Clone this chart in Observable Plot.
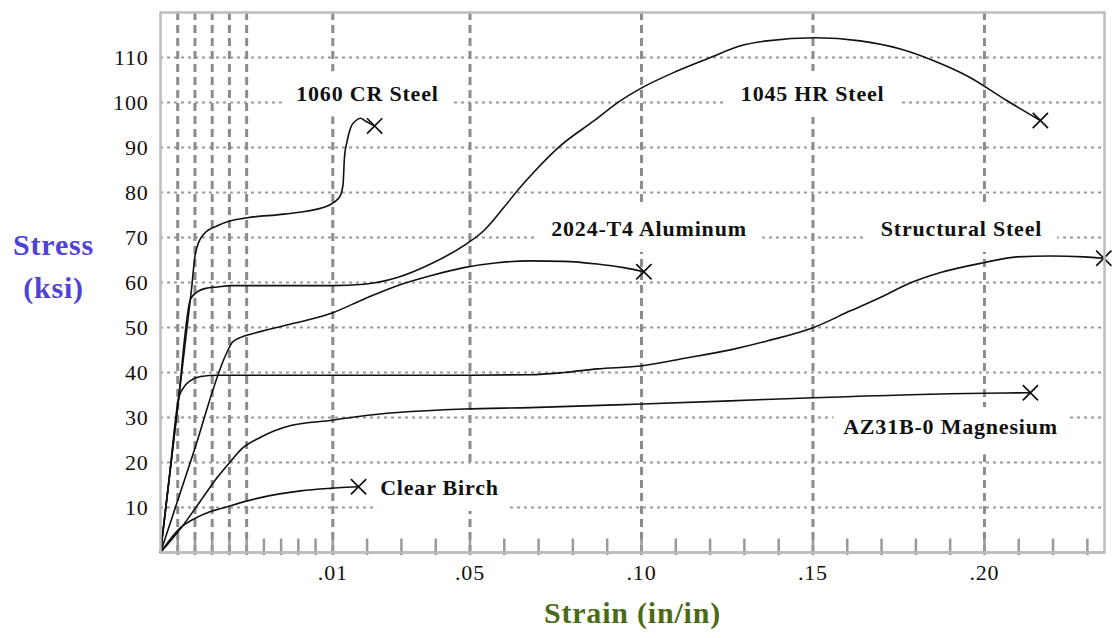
<!DOCTYPE html>
<html>
<head>
<meta charset="utf-8">
<script src="https://cdn.jsdelivr.net/npm/d3@7"></script>
<script src="https://cdn.jsdelivr.net/npm/@observablehq/plot@0.6"></script>
<style>
  html, body { margin: 0; padding: 0; background: #ffffff; }
</style>
</head>
<body>
<div id="chart"></div>
<script>
// ---- Series data (strain in/in, stress ksi) ----
const steel1060Strain = [0, 0.0010, 0.0018, 0.00203, 0.00252, 0.0033, 0.00407, 0.00504, 0.00717, 0.0095, 0.0103, 0.0122, 0.0130, 0.0134, 0.0142, 0.0152, 0.0166, 0.0181, 0.0195, 0.0222];
const steel1060Stress = [0, 32.5, 58.5, 66.5, 70.8, 72.6, 73.7, 74.4, 75.2, 76.7, 77.8, 79.3, 81.9, 87.8, 91.5, 94.4, 95.9, 96.5, 95.9, 94.8];

const steel1045Strain = [0, 0.0010, 0.00174, 0.00213, 0.00262, 0.0033, 0.00407, 0.0100, 0.0191, 0.0288, 0.0385, 0.0482, 0.0540, 0.0599, 0.0638, 0.0686, 0.0764, 0.0861, 0.0939, 0.1002, 0.1104, 0.1201, 0.1289, 0.1366, 0.1507, 0.1638, 0.1755, 0.1852, 0.1950, 0.2066, 0.2163];
const steel1045Stress = [0, 32.5, 56.3, 57.9, 58.7, 59.0, 59.3, 59.3, 59.6, 61.1, 64.1, 68.2, 71.5, 76.7, 80.4, 84.5, 90.4, 95.9, 100.4, 103.3, 107.0, 110.0, 112.6, 113.7, 114.4, 113.7, 111.9, 109.3, 105.9, 100.4, 96.0];

const aluminumStrain = [0, 0.0019, 0.0038, 0.00417, 0.00465, 0.00523, 0.00717, 0.0091, 0.0100, 0.0190, 0.0288, 0.0385, 0.0482, 0.0579, 0.0676, 0.0774, 0.0871, 0.0948, 0.1007];
const aluminumStress = [0, 22.0, 44.0, 46.7, 47.8, 48.5, 50.4, 52.2, 53.3, 56.3, 59.3, 61.5, 63.3, 64.4, 64.8, 64.7, 64.1, 63.3, 62.4];

const structuralStrain = [0, 0.0005, 0.00106, 0.00135, 0.00174, 0.00233, 0.0033, 0.0100, 0.0300, 0.0500, 0.0676, 0.0774, 0.0871, 0.1002, 0.1114, 0.1269, 0.1366, 0.1502, 0.1609, 0.1706, 0.1775, 0.1872, 0.1998, 0.2095, 0.2193, 0.2290, 0.2348];
const structuralStress = [0, 16.3, 34.4, 36.7, 38.2, 39.1, 39.4, 39.4, 39.4, 39.4, 39.5, 40.0, 40.8, 41.5, 43.0, 45.2, 47.0, 50.0, 53.7, 57.0, 59.6, 62.2, 64.4, 65.7, 65.9, 65.7, 65.4];

const magnesiumStrain = [0, 0.00136, 0.00233, 0.0033, 0.00426, 0.00465, 0.00581, 0.00756, 0.0100, 0.0191, 0.0288, 0.0482, 0.0676, 0.1002, 0.1259, 0.1502, 0.1998, 0.2134];
const magnesiumStress = [0, 6.3, 11.5, 16.7, 21.1, 22.8, 25.6, 28.2, 29.4, 30.4, 31.1, 31.9, 32.2, 33.0, 33.7, 34.4, 35.4, 35.5];

const birchStrain = [0, 0.00058, 0.00097, 0.00233, 0.00407, 0.00581, 0.00814, 0.0100, 0.0140, 0.0175];
const birchStress = [0, 3.0, 4.8, 8.2, 10.4, 12.2, 13.7, 14.3, 14.5, 14.6];

// ---- Labels ----
const seriesNames = ["1060 CR Steel", "1045 HR Steel", "2024-T4 Aluminum", "Structural Steel", "AZ31B-0 Magnesium", "Clear Birch"];
const labelStrain = [0.0201, 0.1499, 0.1022, 0.1933, 0.1901, 0.0411];
const labelStress = [101.9, 101.9, 71.9, 71.9, 27.9, 14.4];

// ---- Axes / grid ----
const yTickValues = [10, 20, 30, 40, 50, 60, 70, 80, 90, 100, 110];
const xGridValues = [0.001, 0.002, 0.003, 0.004, 0.005, 0.01, 0.05, 0.10, 0.15, 0.20];
const xTickMarks = [0.001, 0.002, 0.003, 0.004, 0.005, 0.006, 0.007, 0.008, 0.009,
  0.01, 0.02, 0.03, 0.04, 0.05, 0.06, 0.07, 0.08, 0.09, 0.10, 0.11, 0.12, 0.13, 0.14,
  0.15, 0.16, 0.17, 0.18, 0.19, 0.20, 0.21, 0.22, 0.23];
const xLabelValues = [0.01, 0.05, 0.10, 0.15, 0.20];
const xLabelText = [".01", ".05", ".10", ".15", ".20"];

// ---- Build tables ----
const seriesStrain = [steel1060Strain, steel1045Strain, aluminumStrain, structuralStrain, magnesiumStrain, birchStrain];
const seriesStress = [steel1060Stress, steel1045Stress, aluminumStress, structuralStress, magnesiumStress, birchStress];
const rows = seriesNames.flatMap((name, i) =>
  seriesStrain[i].map((s, j) => ({name, strain: s, stress: seriesStress[i][j]})));
const fractures = seriesNames.map((name, i) => ({
  name,
  strain: seriesStrain[i][seriesStrain[i].length - 1],
  stress: seriesStress[i][seriesStress[i].length - 1]
}));
const labelRows = seriesNames.map((name, i) => ({name, strain: labelStrain[i], stress: labelStress[i]}));

const svg = Plot.plot({
  width: 1112,
  height: 638,
  marginLeft: 160,
  marginRight: 8,
  marginTop: 12,
  marginBottom: 86,
  style: "font-family: 'Liberation Serif', 'Times New Roman', serif; letter-spacing: 0.8px; background: white; color: #111;",
  x: {type: "linear", domain: [0, 0.01, 0.235], range: [160, 332.3, 1104]},
  y: {domain: [0, 120]},
  marks: [
    Plot.ruleY(yTickValues, {stroke: "#9a9a9a", strokeWidth: 2, strokeDasharray: "3,4"}),
    Plot.ruleX(xGridValues, {stroke: "#8c8c8c", strokeWidth: 3, strokeDasharray: "8,5"}),
    Plot.text(labelRows, {x: "strain", y: "stress", text: "name", fontSize: 22, fontWeight: "bold",
      fill: "white", stroke: "white", strokeWidth: 32, strokeLinejoin: "round"}),
    Plot.ruleY([0], {stroke: "#9a9a9a", strokeWidth: 2}),
    Plot.ruleX(xTickMarks, {x: d => d, y1: -0.7, y2: 3, stroke: "#9a9a9a", strokeWidth: 2.5}),
    Plot.line(rows, {x: "strain", y: "stress", z: "name", stroke: "#111", strokeWidth: 1.6, curve: "monotone-x"}),
    Plot.dot(fractures, {x: "strain", y: "stress", symbol: "times", r: 7, stroke: "#111", strokeWidth: 1.7}),
    Plot.text(labelRows, {x: "strain", y: "stress", text: "name", fontSize: 22, fontWeight: "bold", fill: "#111"}),
    Plot.axisY({ticks: yTickValues, tickSize: 0, tickPadding: 12, fontSize: 22, label: null}),
    Plot.axisX({ticks: xLabelValues, tickSize: 0, tickPadding: 12, fontSize: 22, label: null,
      tickFormat: d => xLabelText[xLabelValues.indexOf(d)]}),
    Plot.text(["Strain (in/in)"], {frameAnchor: "bottom", dy: 70, fontSize: 30, fontWeight: "bold",
      fill: "#4b6a14", ariaLabel: "axis-title"}),
    Plot.text(["Stress\n(ksi)"], {frameAnchor: "left", dx: -107, dy: -20, lineHeight: 1.43, fontSize: 30,
      fontWeight: "bold", fill: "#4d43d6", textAnchor: "middle", ariaLabel: "axis-title"}),
    Plot.frame({stroke: "#bdbdbd", strokeWidth: 2.5})
  ]
});
document.getElementById("chart").append(svg);
svg.querySelectorAll('g[aria-label="axis-title"] text').forEach(t => { t.style.letterSpacing = "1.5px"; });
</script>
</body>
</html>
